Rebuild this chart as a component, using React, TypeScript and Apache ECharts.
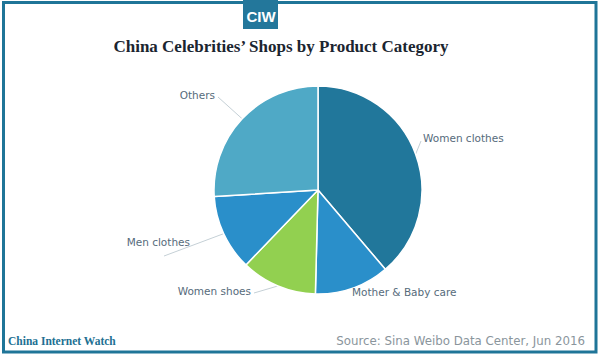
import React, { useEffect, useRef } from "react";
import * as echarts from "echarts";

const categories = ["Women clothes", "Mother & Baby care", "Women shoes", "Men clothes", "Others"];
const shares = [38.8, 11.6, 11.8, 11.8, 26.0];
const sliceColors = ["#21779b", "#2a8fca", "#92d050", "#2a8fca", "#4fa9c6"];

const titleText = "China Celebrities’ Shops by Product Category";
const brandText = "China Internet Watch";
const sourceText = "Source: Sina Weibo Data Center, Jun 2016";
const logoText = "CIW";

// label anchor positions (layout only)
const labelPos: Record<number, { x: number; y: number; align: string; end: number[] }> = {
  0: { x: 423, y: 138, align: "left", end: [421, 141] },
  1: { x: 352, y: 292, align: "left", end: [] },
  2: { x: 251, y: 291, align: "right", end: [254, 293] },
  3: { x: 190, y: 242, align: "right", end: [164, 256] },
  4: { x: 215, y: 95, align: "right", end: [218, 97] },
};

export default function App() {
  const ref = useRef<HTMLDivElement>(null);
  useEffect(() => {
    if (!ref.current) return;
    const chart = echarts.init(ref.current, null, { renderer: "svg" });
    chart.setOption({
      animation: false,
      backgroundColor: "#ffffff",
      graphic: [
        {
          type: "rect",
          shape: { x: 3.5, y: 2.5, width: 592.5, height: 349.5 },
          style: { fill: "none", stroke: "#1f7598", lineWidth: 3 },
          z: 10,
        },
        {
          type: "rect",
          shape: { x: 243, y: 0, width: 35, height: 29 },
          style: { fill: "#23779b" },
          z: 11,
        },
        {
          type: "text",
          x: 261,
          y: 16,
          style: {
            text: logoText,
            fill: "#ffffff",
            font: "bold 15px 'Liberation Sans Narrow', 'Liberation Sans', sans-serif",
            align: "center",
            verticalAlign: "middle",
          },
          z: 12,
        },
        {
          type: "text",
          x: 281,
          y: 46,
          style: {
            text: titleText,
            fill: "#1b2530",
            font: "bold 17px 'Liberation Serif', serif",
            align: "center",
            verticalAlign: "middle",
          },
        },
        {
          type: "text",
          x: 8,
          y: 341,
          style: {
            text: brandText,
            fill: "#216f92",
            font: "bold 11.5px 'Liberation Serif', serif",
            align: "left",
            verticalAlign: "middle",
          },
        },
        {
          type: "text",
          x: 585,
          y: 341,
          style: {
            text: sourceText,
            fill: "#8a959c",
            font: "11.8px 'DejaVu Sans', sans-serif",
            align: "right",
            verticalAlign: "middle",
          },
        },
      ],
      series: [
        {
          type: "pie",
          center: [318, 190],
          radius: 104,
          startAngle: 90,
          clockwise: true,
          itemStyle: { borderColor: "#ffffff", borderWidth: 1.5 },
          label: {
            show: true,
            position: "outside",
            color: "#566b7b",
            fontFamily: "'DejaVu Sans', sans-serif",
            fontSize: 10.5,
          },
          labelLine: {
            show: true,
            length: 10,
            length2: 10,
            lineStyle: { color: "#c5d0d6", width: 1 },
          },
          labelLayout: (params: any) => {
            const p = labelPos[params.dataIndex];
            const start = params.labelLinePoints ? params.labelLinePoints[0] : null;
            const out: any = {
              x: p.x,
              y: p.y,
              align: p.align,
              verticalAlign: "middle",
              hideOverlap: false,
            };
            if (start && p.end.length) {
              out.labelLinePoints = [start, p.end, p.end];
            } else if (start) {
              out.labelLinePoints = [start, start, start];
            }
            return out;
          },
          data: categories.map((name, i) => ({
            name,
            value: shares[i],
            itemStyle: { color: sliceColors[i] },
          })),
        },
      ],
    });
    return () => chart.dispose();
  }, []);
  return (
    <div
      ref={ref}
      style={{ position: "fixed", left: 0, top: 0, width: 600, height: 354 }}
    />
  );
}
